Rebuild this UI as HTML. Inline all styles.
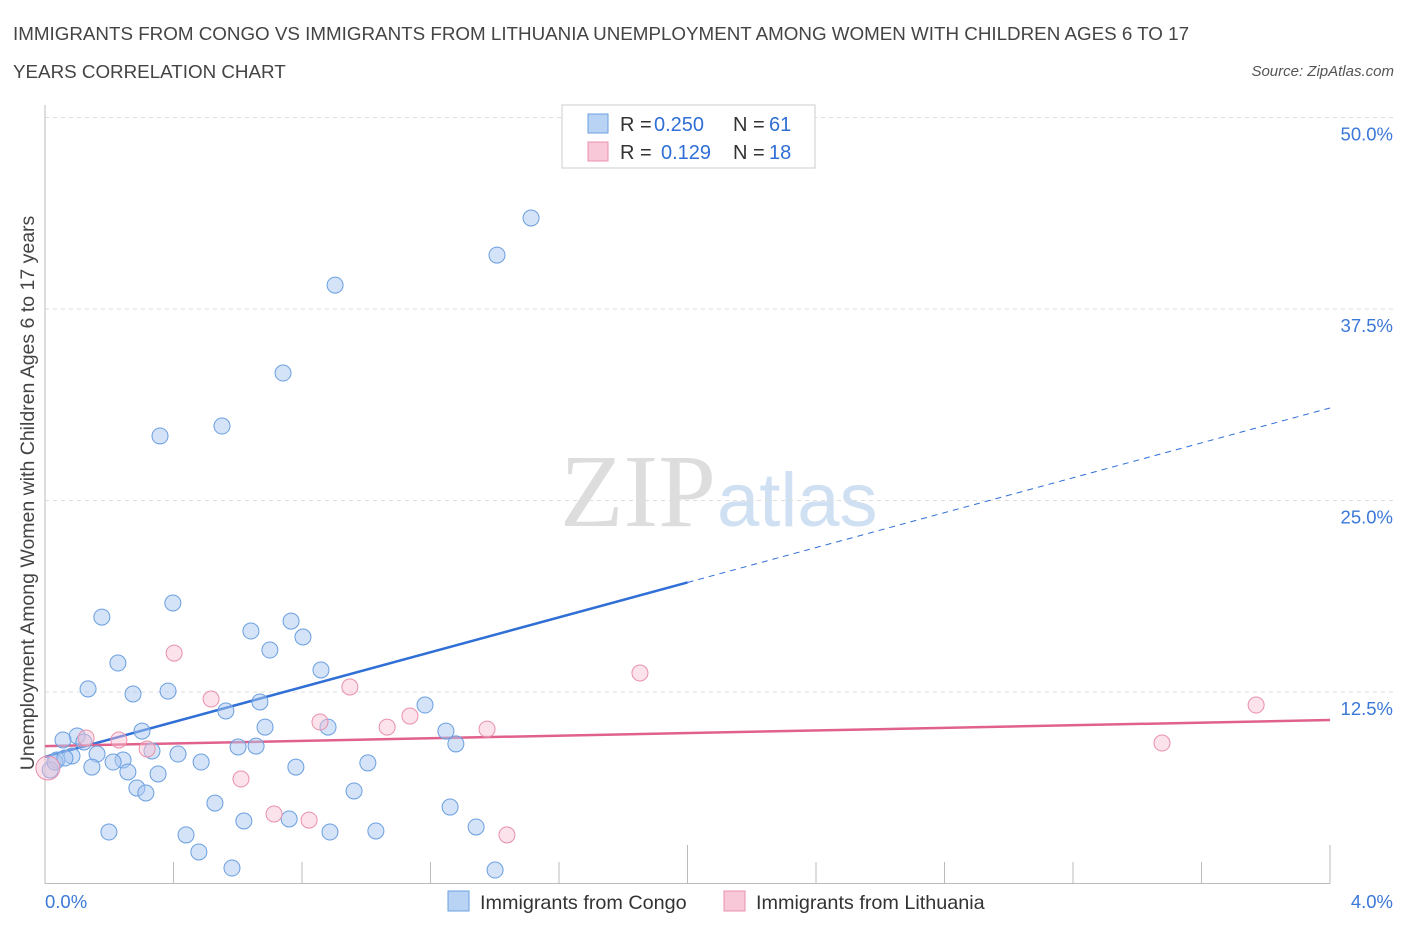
<!DOCTYPE html>
<html><head><meta charset="utf-8"><style>
body{margin:0;background:#fff;font-family:"Liberation Sans",sans-serif;}
#wrap{position:relative;width:1406px;height:930px;overflow:hidden;}
</style></head><body>
<div id="wrap">
<svg id="chart" width="1406" height="930">
<text x="13" y="40" font-size="18.8" fill="#444">IMMIGRANTS FROM CONGO VS IMMIGRANTS FROM LITHUANIA UNEMPLOYMENT AMONG WOMEN WITH CHILDREN AGES 6 TO 17</text>
<text x="13" y="78" font-size="18.8" fill="#444">YEARS CORRELATION CHART</text>
<text x="1394" y="76" font-size="15" fill="#555" font-style="italic" text-anchor="end">Source: ZipAtlas.com</text>
<text x="716" y="526" font-size="104" fill="#ddd" font-family="Liberation Serif,serif" text-anchor="end">ZIP</text>
<text x="717" y="526" font-size="76" fill="#cfe0f3">atlas</text>
<text transform="translate(34,493) rotate(-90)" font-size="19.5" fill="#444" text-anchor="middle">Unemployment Among Women with Children Ages 6 to 17 years</text>
<g id="grid"></g><g id="axes"></g><g id="lines"></g><g id="pts"></g>
<rect x="562" y="105" width="253" height="63" fill="#fff" stroke="#ccc"/>
<rect x="588" y="114" width="20" height="19" fill="#b9d3f5" stroke="#6a9fe0"/>
<rect x="588" y="142" width="20" height="19" fill="#f8c8d8" stroke="#e890ac"/>
<g font-size="20" fill="#333">
<text x="620" y="131">R =</text><text x="654" y="131" fill="#2f6fd6">0.250</text>
<text x="733" y="131">N =</text><text x="769" y="131" fill="#2f6fd6">61</text>
<text x="620" y="159">R =</text><text x="661" y="159" fill="#2f6fd6">0.129</text>
<text x="733" y="159">N =</text><text x="769" y="159" fill="#2f6fd6">18</text>
</g>
<text x="45" y="908" font-size="18.5" fill="#3b78d8">0.0%</text>
<text x="1393" y="908" font-size="18.5" fill="#3b78d8" text-anchor="end">4.0%</text>
<rect x="448" y="891" width="21" height="20" fill="#b9d3f5" stroke="#6a9fe0"/>
<text x="480" y="909" font-size="19.8" fill="#333">Immigrants from Congo</text>
<rect x="724" y="891" width="21" height="20" fill="#f8c8d8" stroke="#e890ac"/>
<text x="756" y="909" font-size="19.8" fill="#333">Immigrants from Lithuania</text>
</svg></div>
<script>
const yTicks=[12.5,25,37.5,50];
const yTickLabels=["12.5%","25.0%","37.5%","50.0%"];
const congoX=[1.513,1.407,0.903,0.741,0.551,0.358,0.398,0.177,0.641,0.766,0.803,0.700,0.227,0.859,0.134,0.274,0.383,0.669,0.563,1.183,0.685,0.881,1.248,0.302,0.100,0.056,0.121,1.279,0.601,0.657,0.333,0.414,0.162,0.084,0.037,0.243,0.212,0.486,1.005,0.781,0.146,0.258,0.352,0.016,0.286,0.314,0.962,0.529,1.261,0.619,0.760,1.342,0.199,0.439,0.887,1.030,0.479,0.582,1.401,0.031,0.062];
const congoY=[43.44,41.02,39.06,33.32,29.86,29.21,18.31,17.39,16.48,17.13,16.09,15.24,14.39,13.94,12.70,12.37,12.56,11.85,11.26,11.65,10.21,10.21,9.95,9.95,9.63,9.37,9.24,9.11,8.91,8.97,8.65,8.45,8.45,8.32,8.06,8.06,7.93,7.93,7.87,7.60,7.60,7.28,7.15,7.41,6.23,5.91,6.04,5.25,4.99,4.08,4.21,3.69,3.36,3.17,3.36,3.43,2.06,1.01,0.88,7.93,8.19];
const lithX=[0.009,0.128,0.230,0.318,0.402,0.517,0.610,0.713,0.822,0.856,0.949,1.065,1.136,1.376,1.438,1.852,3.477,3.770];
const lithY=[7.54,9.50,9.37,8.78,15.04,12.04,6.82,4.54,4.14,10.54,12.83,10.21,10.93,10.08,3.17,13.74,9.17,11.65];
const congoTrend=[8.26,5.695];
const lithTrend=[8.97,0.425];
const X0=45,X1=1330,Y0=883.5,YS=191.5/12.5;
const sx=v=>X0+v/4*(X1-X0), sy=v=>Y0-v*YS;
const NS="http://www.w3.org/2000/svg";
function mk(p,t,a){const e=document.createElementNS(NS,t);for(const k in a)e.setAttribute(k,a[k]);document.getElementById(p).appendChild(e);return e;}
yTicks.forEach((t,i)=>{
 const g=mk('grid','line',{x1:X0,x2:1395,y1:sy(t),y2:sy(t),stroke:'#ddd','stroke-dasharray':'4,4'});
 
 
 const l=mk('grid','text',{x:1393,y:sy(t)+23,'font-size':18.5,fill:'#3b78d8','text-anchor':'end'});
 l.textContent=yTickLabels[i];
 
 
});
const ax=mk('axes','line',{x1:X0,x2:X0,y1:105,y2:Y0,stroke:'#bbb'});


const bx=mk('axes','line',{x1:X0,x2:X1,y1:Y0,y2:Y0,stroke:'#bbb'});


for(let i=0;i<=10;i++){
 const x=sx(i*0.4);
 const tk=mk('axes','line',{x1:x,x2:x,y1:(i%5==0&&i>0)?845:862,y2:Y0,stroke:'#bbb'});
 
 
}
const f=(c,x)=>c[0]+c[1]*x;
const l1=mk('lines','line',{x1:sx(0),y1:sy(f(congoTrend,0)),x2:sx(2),y2:sy(f(congoTrend,2)),stroke:'#2f6fd6','stroke-width':2.5});


const l2=mk('lines','line',{x1:sx(2),y1:sy(f(congoTrend,2)),x2:sx(4),y2:sy(f(congoTrend,4)),stroke:'#2f6fd6','stroke-width':1,'stroke-dasharray':'6,5'});


const l3=mk('lines','line',{x1:sx(0),y1:sy(f(lithTrend,0)),x2:sx(4),y2:sy(f(lithTrend,4)),stroke:'#e0628c','stroke-width':2.5});


congoX.forEach((x,i)=>{
 const c=mk('pts','circle',{cx:sx(x),cy:sy(congoY[i]),r:8,fill:'rgba(170,200,240,0.5)',stroke:'#6a9fe0','stroke-width':1});
 
 
});
lithX.forEach((x,i)=>{
 const c=mk('pts','circle',{cx:sx(x),cy:sy(lithY[i]),r:i==0?12:8,fill:'rgba(248,190,210,0.45)',stroke:'#e890ac','stroke-width':1});
 
 
});
</script>
</body></html>
